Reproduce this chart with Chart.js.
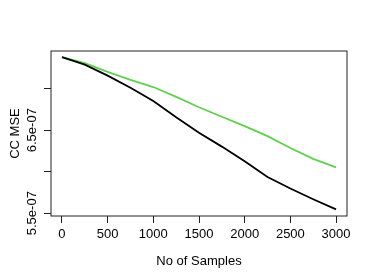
<!DOCTYPE html>
<html lang="en">

<head>
    <meta charset="UTF-8">
    <title>CC MSE vs samples</title>
    <script src="https://cdn.jsdelivr.net/npm/chart.js/dist/chart.umd.min.js"></script>
    <style>
        html, body { margin: 0; padding: 0; background: #fff; }
        #wrap { width: 374px; height: 280px; }
    </style>
</head>

<body>
    <div id="wrap"><canvas id="myChart" width="374" height="280"></canvas></div>
    <script>
        // values
        const samples = [0, 250, 500, 750, 1000, 1250, 1500, 1750, 2000, 2250, 2500, 2750, 3000];
        const blackMse = [7.380e-7, 7.290e-7, 7.157e-7, 7.011e-7, 6.851e-7, 6.656e-7, 6.470e-7,
            6.302e-7, 6.125e-7, 5.935e-7, 5.797e-7, 5.668e-7, 5.546e-7];
        const greenMse = [7.380e-7, 7.308e-7, 7.202e-7, 7.106e-7, 7.020e-7, 6.902e-7, 6.776e-7,
            6.662e-7, 6.548e-7, 6.428e-7, 6.286e-7, 6.154e-7, 6.052e-7];
        const xTicks = [0, 500, 1000, 1500, 2000, 2500, 3000];
        const yTicks = [5.5e-7, 6.0e-7, 6.5e-7, 7.0e-7];
        const yLabels = ['5.5e-07', '', '6.5e-07', ''];

        const FONT = '"Liberation Sans", Arial, sans-serif';

        function toPoints(ys) {
            return samples.map((x, i) => ({ x: x, y: ys[i] }));
        }

        // box, rotated y labels and axis titles, drawn like base R
        const rStyle = {
            id: 'rStyle',
            afterDraw(chart) {
                const ctx = chart.ctx;
                const a = chart.chartArea;
                const ys = chart.scales.y;
                ctx.save();
                ctx.strokeStyle = '#222';
                ctx.lineWidth = 1;
                ctx.strokeRect(a.left, a.top, a.right - a.left, a.bottom - a.top);

                ctx.fillStyle = '#000';
                ctx.font = '13px ' + FONT;
                ctx.textAlign = 'center';
                ctx.textBaseline = 'middle';
                yTicks.forEach((v, i) => {
                    if (!yLabels[i]) return;
                    ctx.save();
                    ctx.translate(32, ys.getPixelForValue(v));
                    ctx.rotate(-Math.PI / 2);
                    ctx.fillText(yLabels[i], 0, 0);
                    ctx.restore();
                });

                ctx.save();
                ctx.translate(15, (a.top + a.bottom) / 2);
                ctx.rotate(-Math.PI / 2);
                ctx.fillText('CC MSE', 0, 0);
                ctx.restore();

                ctx.fillText('No of Samples', (a.left + a.right) / 2, 261);
                ctx.restore();
            }
        };

        const ctx = document.getElementById('myChart').getContext('2d');
        const myChart = new Chart(ctx, {
            type: 'line',
            data: {
                datasets: [{
                    label: 'black',
                    data: toPoints(blackMse),
                    borderColor: '#000000',
                    borderWidth: 1.8,
                    pointRadius: 0,
                    tension: 0
                }, {
                    label: 'green',
                    data: toPoints(greenMse),
                    borderColor: '#61D04F',
                    borderWidth: 1.8,
                    pointRadius: 0,
                    tension: 0
                }]
            },
            options: {
                responsive: false,
                animation: false,
                layout: { padding: { top: 51, right: 27, left: 0, bottom: 0 } },
                plugins: {
                    legend: { display: false },
                    tooltip: { enabled: false }
                },
                scales: {
                    x: {
                        type: 'linear',
                        min: -120,
                        max: 3120,
                        afterBuildTicks: s => { s.ticks = xTicks.map(v => ({ value: v })); },
                        afterFit: s => { s.height = 64; },
                        border: { display: false },
                        grid: { drawOnChartArea: false, tickLength: 7, tickColor: '#222' },
                        ticks: {
                            color: '#000',
                            font: { size: 13, family: FONT },
                            padding: 4,
                            maxRotation: 0,
                            autoSkip: false,
                            callback: v => String(v)
                        }
                    },
                    y: {
                        type: 'linear',
                        min: 5.466e-7,
                        max: 7.454e-7,
                        afterBuildTicks: s => { s.ticks = yTicks.map(v => ({ value: v })); },
                        afterFit: s => { s.width = 51; },
                        border: { display: false },
                        grid: { drawOnChartArea: false, tickLength: 7, tickColor: '#222' },
                        ticks: { display: false }
                    }
                }
            },
            plugins: [rStyle]
        });
    </script>
</body>

</html>
